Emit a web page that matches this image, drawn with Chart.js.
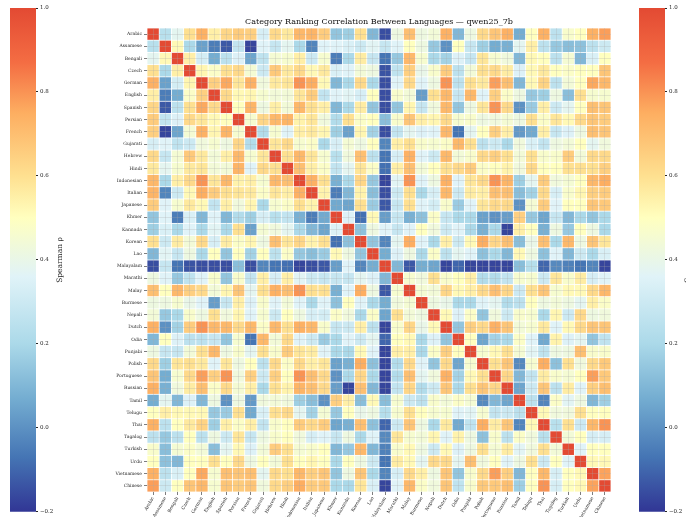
<!DOCTYPE html>
<html>
<head>
<meta charset="utf-8">
<script src="https://cdn.jsdelivr.net/npm/chart.js@4"></script>
<style>
html, body { margin:0; padding:0; background:#fff; overflow:hidden; width:686px; height:517px; }
canvas { position:absolute; }
#wrapMain { position:absolute; left:0; top:0; width:686px; height:517px; }
#wrapL { position:absolute; left:0; top:0; width:80px; height:517px; }
#wrapR { position:absolute; left:629px; top:0; width:80px; height:517px; }
</style>
</head>
<body>
<div id="wrapMain"><canvas id="main"></canvas></div>
<div id="wrapL"><canvas id="cbLeft"></canvas></div>
<div id="wrapR"><canvas id="cbRight"></canvas></div>
<script>
const languages = ["Arabic","Assamese","Bengali","Czech","German","English","Spanish","Persian","French","Gujarati","Hebrew","Hindi","Indonesian","Italian","Japanese","Khmer","Kannada","Korean","Lao","Malayalam","Marathi","Malay","Burmese","Nepali","Dutch","Odia","Punjabi","Polish","Portuguese","Russian","Tamil","Telugu","Thai","Tagalog","Turkish","Urdu","Vietnamese","Chinese"];

// upper triangle, each list starts just right of the diagonal
const rowArabic = [.24,.38,.6,.74,.55,.63,.66,.65,.33,.62,.57,.72,.73,.66,.14,.17,.6,.1,-.15,.42,.7,.42,.44,.74,.1,.42,.62,.68,.74,.07,.5,.74,.25,.47,.5,.74,.78];
const rowAssamese = [.52,.2,.04,-.05,-.13,.27,-.17,.36,.28,.38,.2,-.03,.36,.36,.34,.3,.37,.28,.36,.5,.42,.15,0,.5,.28,.17,.07,.08,.38,.55,.25,.15,.12,.13,.25,.3];
const rowBengali = [.55,.32,.07,.25,.35,.05,.26,.45,.46,.55,.3,.46,-.05,.2,.56,.28,-.07,.15,.72,.46,.2,.18,.35,.28,.58,.46,.43,.1,.52,.5,.25,.45,.1,.34,.5];
const rowCzech = [.53,.48,.6,.62,.45,.3,.67,.57,.62,.52,.57,.34,.36,.44,.42,-.14,.26,.65,.4,.47,.66,.25,.44,.6,.62,.56,.35,.52,.57,.5,.48,.5,.5,.68];
const rowGerman = [.65,.76,.58,.74,.43,.57,.58,.8,.75,.52,.1,.2,.62,.2,-.15,.36,.62,.36,.42,.8,.25,.6,.57,.78,.7,.1,.52,.64,.25,.44,.5,.76,.72];
const rowEnglish = [.62,.52,.53,.46,.44,.44,.58,.66,.27,.36,.37,.33,.5,-.15,.47,.44,.03,.6,.72,.28,.72,.36,.65,.48,.42,.15,.17,.42,.12,.6,.46,.46];
const rowSpanish = [.5,.73,.42,.55,.44,.72,.6,.55,.1,.2,.56,.14,-.15,.14,.53,.28,.43,.72,.14,.42,.58,.8,.62,0,.16,.55,.3,.38,.5,.7,.68];
const rowPersian = [.46,.63,.72,.73,.54,.58,.43,.22,.6,.48,.5,.12,.47,.68,.55,.53,.62,.46,.47,.42,.43,.45,.42,.6,.48,.58,.52,.62,.68,.66];
const rowFrench = [.22,.46,.36,.55,.57,.53,.17,.04,.53,.18,-.15,.27,.38,.35,.36,.72,-.07,.38,.5,.65,.55,.02,.06,.55,.28,.35,.42,.7,.68];
const rowGujarati = [.58,.62,.46,.48,.2,.33,.45,.42,.5,-.03,.55,.6,.47,.46,.48,.72,.6,.25,.3,.2,.43,.34,.27,.42,.44,.5,.38,.43];
const rowHebrew = [.6,.72,.58,.46,.24,.43,.7,.25,-.07,.33,.74,.36,.3,.72,.44,.47,.62,.65,.6,.44,.6,.47,.47,.66,.44,.62,.62];
const rowHindi = [.7,.55,.48,.27,.38,.58,.48,-.08,.55,.7,.44,.5,.6,.62,.66,.48,.5,.54,.43,.62,.5,.5,.6,.6,.6,.65];
const rowIndonesian = [.74,.6,.08,.2,.63,.15,-.17,.37,.8,.36,.42,.74,.36,.58,.62,.8,.73,.17,.38,.66,.43,.45,.5,.72,.75];
const rowItalian = [.54,-.05,.1,.54,.12,-.15,.3,.6,.2,.33,.72,.3,.56,.55,.7,.7,.12,.18,.62,.33,.47,.53,.65,.66];
const rowJapanese = [.06,.05,.6,.16,-.13,.28,.6,.36,.32,.47,.16,.36,.58,.62,.62,0,.45,.66,.36,.5,.5,.68,.67];
const rowKhmer = [.35,-.08,.52,.03,.28,.08,.13,.48,.28,.2,.2,.04,0,.03,.65,.15,.05,.28,.1,.2,.14,.2];
const rowKannada = [.13,.42,.36,.28,.36,.5,.43,.3,.36,.2,.08,.2,-.17,.55,.5,.08,.42,.15,.5,.42,.2];
const rowKorean = [.14,-.03,.38,.75,.36,.2,.55,.3,.52,.75,.63,.7,.12,.4,.7,.2,.72,.42,.68,.58];
const rowLao = [.07,.35,.42,.2,.48,.25,.38,.36,.13,.2,.1,.52,.42,.13,.36,.1,.3,.2,.34];
const rowMalayalam = [.1,-.13,.07,.05,-.17,-.1,-.17,-.17,-.17,-.17,.12,.23,-.1,-.02,-.04,-.07,-.03,-.17];
const rowMarathi = [.46,.43,.6,.47,.5,.55,.22,.22,.27,.46,.46,.3,.58,.47,.56,.33,.36];
const rowMalay = [.45,.44,.63,.52,.55,.62,.7,.63,.3,.6,.68,.46,.52,.52,.62,.72];
const rowBurmese = [.42,.4,.2,.2,.36,.38,.22,.25,.5,.42,.44,.42,.38,.55,.48];
const rowNepali = [.52,.35,.48,.14,.43,.3,.47,.46,.2,.53,.3,.62,.42,.43];
const rowDutch = [.14,.65,.62,.74,.68,.44,.46,.57,.36,.52,.62,.68,.68];
const rowOdia = [.5,.05,.18,.2,.48,.36,.06,.54,.35,.38,.14,.26];
const rowPunjabi = [.46,.52,.6,.45,.37,.26,.42,.42,.7,.47,.47];
const rowPolish = [.6,.68,-.02,.46,.75,.13,.6,.43,.62,.67];
const rowPortuguese = [.63,.1,.27,.56,.47,.45,.5,.78,.67];
const rowRussian = [.05,.3,.68,.25,.56,.36,.65,.7];
const rowTamil = [.25,-.03,.48,.37,.42,.1,.17];
const rowTelugu = [.52,.43,.43,.6,.5,.5];
const rowThai = [.24,.6,.3,.72,.8];
const rowTagalog = [.44,.5,.33,.33];
const rowTurkish = [.36,.5,.5];
const rowUrdu = [.52,.52];
const rowVietnamese = [.77];
const rowChinese = [];

const upperRows = [rowArabic,rowAssamese,rowBengali,rowCzech,rowGerman,rowEnglish,rowSpanish,rowPersian,rowFrench,rowGujarati,rowHebrew,rowHindi,rowIndonesian,rowItalian,rowJapanese,rowKhmer,rowKannada,rowKorean,rowLao,rowMalayalam,rowMarathi,rowMalay,rowBurmese,rowNepali,rowDutch,rowOdia,rowPunjabi,rowPolish,rowPortuguese,rowRussian,rowTamil,rowTelugu,rowThai,rowTagalog,rowTurkish,rowUrdu,rowVietnamese,rowChinese];

const cmapValues = [-0.2,-0.07,0.07,0.2,0.36,0.5,0.6,0.75,0.87,1.0];
const cmapColors = [[49,54,149],[69,117,180],[116,173,209],[171,217,233],[224,243,248],[255,255,191],[254,224,144],[253,174,97],[244,109,67],[227,74,51]];

function colorFor(v) {
  let i = 0;
  while (i < cmapValues.length - 2 && v > cmapValues[i+1]) i++;
  let t = (v - cmapValues[i]) / (cmapValues[i+1] - cmapValues[i]);
  t = Math.max(0, Math.min(1, t));
  let a = cmapColors[i], b = cmapColors[i+1];
  return "rgb(" + a.map((c,k)=>Math.round(c + (b[k]-c)*t)).join(",") + ")";
}

// full symmetric list of cells
let cells = [];
languages.forEach((_, r) => {
  languages.forEach((_, c) => {
    let v = r === c ? 1 : (c > r ? upperRows[r][c-r-1] : upperRows[c][r-c-1]);
    cells.push({x:c, y:r, v:v});
  });
});

const serif = "'DejaVu Serif'";
const inkCol = "#262626";

function everyCell(scale) {
  scale.ticks = languages.map((_, i) => ({value:i}));
}

new Chart(document.getElementById("main"), {
  type: "scatter",
  data: {
    datasets: [{
      data: cells,
      pointStyle: "rect",
      borderWidth: 0,
      backgroundColor: ctx => colorFor(ctx.raw.v),
      pointRadius: ctx => {
        let area = ctx.chart.chartArea;
        return area ? (area.width / languages.length - 0.8) / Math.SQRT2 : 4;
      }
    }]
  },
  options: {
    responsive: true,
    maintainAspectRatio: false,
    animation: false,
    layout: { padding: { right: 75 } },
    plugins: {
      legend: { display: false },
      tooltip: { enabled: false },
      title: {
        display: true,
        fullSize: false,
        text: "Category Ranking Correlation Between Languages \u2014 qwen25_7b",
        color: "#111",
        font: { family: serif, size: 8.05, weight: "normal" },
        padding: { top: 17.5, bottom: 0.84 }
      }
    },
    scales: {
      x: {
        type: "linear", min: -0.5, max: 37.5,
        afterBuildTicks: everyCell,
        afterFit: s => { s.height = 25; },
        border: { display: false },
        grid: { z: 1, color: "rgba(170,170,170,0.45)", lineWidth: 0.6, tickColor: inkCol, tickLength: 3 },
        ticks: {
          autoSkip: false, minRotation: 60, maxRotation: 60, padding: 1,
          color: inkCol, font: { family: serif, size: 4.5 },
          callback: v => languages[v]
        }
      },
      y: {
        type: "linear", reverse: true, min: -0.5, max: 37.5,
        afterBuildTicks: everyCell,
        afterFit: s => { s.width = 147; },
        border: { display: false },
        grid: { z: 1, color: "rgba(170,170,170,0.45)", lineWidth: 0.6, tickColor: inkCol, tickLength: 3 },
        ticks: {
          autoSkip: false, padding: 2,
          color: inkCol, font: { family: serif, size: 4.5 },
          callback: v => languages[v]
        }
      }
    }
  }
});

// colour bars share this set up
const barLabel = "Spearman \u03c1";
const labelPlugin = {
  id: "barLabel",
  afterDraw(chart, args, opts) {
    let c = chart.ctx;
    c.save();
    c.translate(opts.x, 260);
    c.rotate(-Math.PI / 2);
    c.font = "7.5px " + serif;
    c.fillStyle = inkCol;
    c.textAlign = "center";
    c.textBaseline = "middle";
    c.fillText(barLabel, 0, 0);
    c.restore();
  }
};

function makeBar(id, barLeft, labelX) {
  new Chart(document.getElementById(id), {
    type: "bar",
    plugins: [labelPlugin],
    data: {
      labels: [""],
      datasets: [{
        data: [[-0.2, 1.0]],
        barPercentage: 1,
        categoryPercentage: 1,
        backgroundColor: ctx => {
          let sc = ctx.chart.scales.y;
          if (!sc || !ctx.chart.chartArea) return "#ccc";
          let g = ctx.chart.ctx.createLinearGradient(0, sc.bottom, 0, sc.top);
          cmapValues.forEach((v, i) => g.addColorStop((v + 0.2) / 1.2, colorFor(v)));
          return g;
        }
      }]
    },
    options: {
      responsive: true,
      maintainAspectRatio: false,
      animation: false,
      layout: { padding: { left: barLeft, top: 8, bottom: 5 } },
      plugins: { legend: { display: false }, tooltip: { enabled: false }, barLabel: { x: labelX } },
      scales: {
        x: { display: false },
        y: {
          position: "right", min: -0.2, max: 1.0,
          afterFit: s => { s.width = 80 - barLeft - 26; },
          border: { display: false },
          grid: { drawOnChartArea: false, tickColor: inkCol, tickLength: 2 },
          ticks: {
            stepSize: 0.2, padding: 2,
            color: inkCol, font: { family: serif, size: 5.5 },
            callback: v => Number(v.toFixed(1)).toFixed(1).replace("-", "\u2212")
          }
        }
      }
    }
  });
}

makeBar("cbLeft", 10, 60);
makeBar("cbRight", 10, 59.5);
</script>
</body>
</html>
